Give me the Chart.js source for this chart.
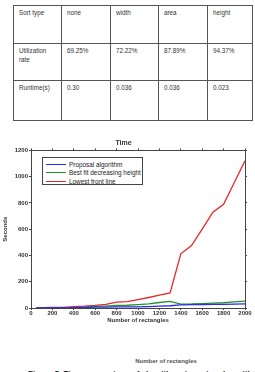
<!DOCTYPE html>
<html>
<head>
<meta charset="utf-8">
<script src="https://cdn.jsdelivr.net/npm/chart.js@4/dist/chart.umd.min.js"></script>
<style>
  html, body { margin: 0; padding: 0; background: #fff; width: 255px; height: 372px; overflow: hidden; }
  body { position: relative; font-family: "Liberation Sans", Arial, sans-serif; }
  #sortTable { position: absolute; left: 13px; top: 5px; border-collapse: collapse; font-size: 6.3px; color: #333; }
  #sortTable td { border: 1px solid #555; vertical-align: top; padding: 2px 5px 0 5px; line-height: 9px; box-sizing: border-box; }
  #chartBox { position: absolute; left: 0; top: 134px; width: 255px; height: 194px; }
  #legend { position: absolute; left: 42px; top: 157px; width: 101px; height: 28px; border: 1px solid #444; background: #fff; box-sizing: border-box; padding-top: 2px; }
  .legRow { height: 8.5px; display: flex; align-items: center; font-size: 6.4px; color: #222; white-space: nowrap; }
  .legLine { width: 20px; height: 1.4px; margin: 0 3px 0 3px; }
  #xNote { position: absolute; left: 0; width: 332px; top: 358px; text-align: center; font-size: 6px; font-weight: bold; color: #555; }
  #caption { position: absolute; left: 28px; top: 369px; font-size: 8px; font-weight: bold; color: #111; white-space: nowrap; }
</style>
</head>
<body>
<table id="sortTable"></table>
<div id="chartBox"><canvas id="timeChart"></canvas></div>
<div id="legend"></div>
<div id="xNote">Number of rectangles</div>
<div id="caption">Figure 5. Time comparison of algorithms in rectangles with</div>
<script>
// table values
const sortTypes = ['none', 'width', 'area', 'height'];
const utilization = ['69.25%', '72.22%', '87.89%', '94.37%'];
const runtimes = ['0.30', '0.036', '0.036', '0.023'];

// chart values
const rectCounts = [50, 100, 200, 300, 400, 500, 600, 700, 800, 900, 1000, 1100, 1200, 1300, 1400, 1500, 1600, 1700, 1800, 1900, 2000];
const proposalTimes = [1, 1, 2, 2, 3, 4, 6, 7, 8, 8, 9, 11, 14, 17, 24, 25, 26, 27, 28, 29, 31];
const bestFitTimes = [1, 2, 2, 3, 4, 7, 12, 15, 19, 21, 26, 31, 42, 50, 30, 31, 34, 37, 40, 47, 52];
const lowestFrontTimes = [3, 3, 4, 5, 10, 14, 20, 28, 44, 48, 64, 80, 98, 115, 413, 475, 600, 730, 790, 955, 1120];
const seriesNames = ['Proposal algorithm', 'Best fit decreasing height', 'Lowest front line'];
const seriesColors = ['#2b2bea', '#23902f', '#e8262b'];

function buildTable() {
    const colWidths = [48, 49, 48, 49, 45];
    const rows = [
        ['Sort type', ...sortTypes],
        ['Utilization rate', ...utilization],
        ['Runtime(s)', ...runtimes]
    ];
    const heights = [38, 37, 40];
    const tbl = document.getElementById('sortTable');
    rows.forEach((r, ri) => {
        const tr = document.createElement('tr');
        r.forEach((txt, ci) => {
            const td = document.createElement('td');
            td.textContent = txt;
            td.style.width = colWidths[ci] + 'px';
            td.style.height = heights[ri] + 'px';
            if (ri === 1 && ci === 0) td.innerHTML = 'Utilization<br>rate';
            tr.appendChild(td);
        });
        tbl.appendChild(tr);
    });
}

function buildLegend() {
    const box = document.getElementById('legend');
    seriesNames.forEach((name, i) => {
        const row = document.createElement('div');
        row.className = 'legRow';
        row.innerHTML = `<span class="legLine" style="background:${seriesColors[i]}"></span>${name}`;
        box.appendChild(row);
    });
}

function drawTimeChart() {
    const lists = [proposalTimes, bestFitTimes, lowestFrontTimes];
    Chart.defaults.font.family = '"Liberation Sans", Arial, sans-serif';
    Chart.defaults.color = '#333';
    const axisLine = { display: true, color: '#444', width: 1 };
    const plain = v => String(v);
    const ctx = document.getElementById('timeChart').getContext('2d');
    new Chart(ctx, {
        type: 'line',
        data: {
            datasets: lists.map((vals, i) => ({
                label: seriesNames[i],
                data: rectCounts.map((n, k) => ({ x: n, y: vals[k] })),
                borderColor: seriesColors[i],
                borderWidth: 1.3,
                pointRadius: 0,
                tension: 0,
                xAxisID: 'x',
                yAxisID: 'y'
            }))
        },
        options: {
            responsive: true,
            maintainAspectRatio: false,
            animation: false,
            layout: { padding: { left: 0, right: 8, top: 0, bottom: 0 } },
            plugins: {
                legend: { display: false },
                tooltip: { enabled: false },
                title: {
                    display: true,
                    text: 'Time',
                    color: '#333',
                    font: { size: 7, weight: 'bold' },
                    padding: { top: 5, bottom: 1 }
                }
            },
            scales: {
                x: {
                    type: 'linear',
                    position: 'bottom',
                    min: 0, max: 2000,
                    border: axisLine,
                    grid: { drawOnChartArea: false, tickLength: 2, color: '#444' },
                    ticks: { stepSize: 200, padding: 0, maxRotation: 0, callback: plain, font: { size: 6, weight: 'bold' }, color: '#333' },
                    title: { display: true, text: 'Number of rectangles', font: { size: 6, weight: 'bold' }, color: '#333', padding: { top: 0, bottom: 4 } },
                    afterFit: s => { s.height = 20; }
                },
                x2: {
                    type: 'linear',
                    position: 'top',
                    min: 0, max: 2000,
                    border: axisLine,
                    grid: { drawOnChartArea: false, tickLength: 2, color: '#444' },
                    ticks: { display: false, stepSize: 200 }
                },
                y: {
                    position: 'left',
                    min: 0, max: 1200,
                    border: axisLine,
                    grid: { drawOnChartArea: false, tickLength: 2, color: '#444' },
                    ticks: { stepSize: 200, padding: 1, callback: plain, font: { size: 6, weight: 'bold' }, color: '#333' },
                    title: { display: true, text: 'Seconds', font: { size: 6, weight: 'bold' }, color: '#333', padding: { top: 2, bottom: 0 } },
                    afterFit: s => { s.width = 31; }
                },
                y2: {
                    position: 'right',
                    min: 0, max: 1200,
                    border: axisLine,
                    grid: { drawOnChartArea: false, tickLength: 2, color: '#444' },
                    ticks: { display: false, stepSize: 200 }
                }
            }
        }
    });
}

buildTable();
buildLegend();
drawTimeChart();
</script>
</body>
</html>
